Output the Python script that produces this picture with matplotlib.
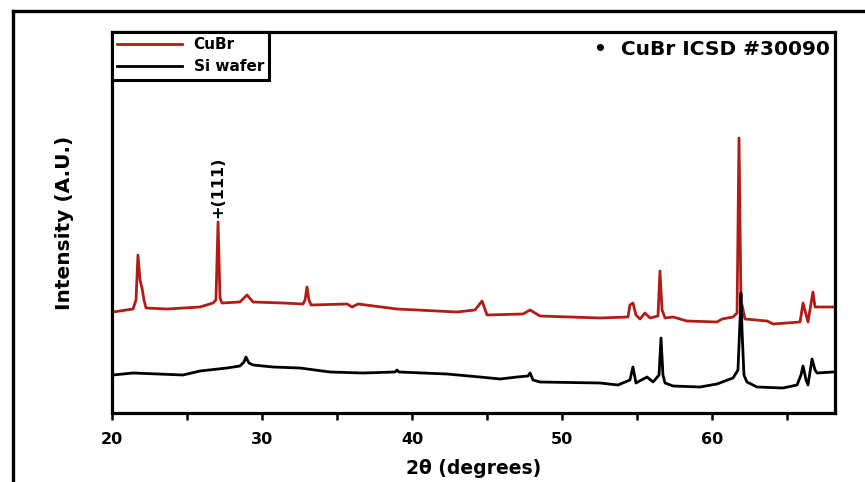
import matplotlib
matplotlib.use("Agg")
import matplotlib.pyplot as plt
from matplotlib.lines import Line2D
from matplotlib.ticker import MultipleLocator
import numpy as np

# CuBr film pattern (2theta in degrees, intensity in a.u.)
cubr_2theta = [20.07, 21.4, 21.6, 21.73, 21.87, 22.0, 22.13, 22.27, 23.67, 25.87,
               26.73, 26.93, 27.07, 27.2, 27.33, 28.53, 29.0, 29.4, 31.4, 32.73,
               32.87, 33.0, 33.13, 33.27, 35.67, 36.0, 36.4, 39.0, 43.0, 44.2,
               44.67, 45.0, 47.4, 47.87, 48.53, 52.53, 54.4, 54.53, 54.73, 54.93,
               55.2, 55.53, 55.87, 56.4, 56.53, 56.67, 56.87, 57.4, 58.33, 60.33,
               60.67, 61.4, 61.67, 61.8, 61.93, 62.2, 63.67, 64.07, 65.87, 66.07,
               66.4, 66.53, 66.73, 66.87, 68.07]
cubr_int = [101, 104, 113, 158, 133, 125, 113, 105, 104, 106,
            110, 113, 191, 115, 110, 111, 118, 111, 110, 109,
            113, 126, 113, 108, 109, 106, 109, 104, 101, 103,
            112, 98, 99, 103, 97, 95, 96, 108, 110, 98,
            94, 100, 95, 97, 142, 103, 95, 96, 92, 91,
            94, 96, 100, 275, 113, 94, 92, 89, 91, 110,
            91, 103, 121, 106, 106]

# bare Si wafer
si_2theta = [20.07, 21.4, 24.73, 25.87, 27.67, 28.53, 28.8, 28.93, 29.13, 29.4,
             30.73, 32.53, 34.53, 36.73, 38.87, 39.0, 39.13, 42.33, 44.53, 45.87,
             47.0, 47.73, 47.87, 48.07, 48.53, 52.53, 53.73, 54.53, 54.73, 54.93,
             55.67, 56.07, 56.47, 56.6, 56.73, 56.87, 57.4, 59.2, 60.33, 61.4,
             61.73, 61.87, 61.93, 62.0, 62.13, 62.33, 63.0, 64.73, 65.67, 65.93,
             66.07, 66.27, 66.4, 66.67, 66.87, 67.0, 68.07]
si_int = [38, 40, 38, 42, 45, 47, 51, 56, 50, 48,
          46, 45, 41, 40, 41, 43, 41, 39, 36, 34,
          36, 37, 40, 33, 31, 30, 28, 33, 46, 30,
          36, 31, 38, 75, 38, 30, 27, 26, 29, 35,
          43, 93, 120, 83, 38, 31, 26, 25, 28, 38,
          47, 33, 28, 54, 43, 40, 41]

red = "#b31b17"

fig = plt.figure(figsize=(8.65, 4.82), dpi=100)

# outer frame around the panel (right and bottom run off the page)
fig.add_artist(Line2D([13 / 865, 13 / 865], [1 - 11 / 482, 0], color="black",
                      lw=2.4, transform=fig.transFigure))
fig.add_artist(Line2D([13 / 865, 1.0], [1 - 11 / 482, 1 - 11 / 482], color="black",
                      lw=2.4, transform=fig.transFigure))

ax = fig.add_axes([112 / 865, 69 / 482, 723 / 865, 381 / 482])
ax.plot(cubr_2theta, cubr_int, color=red, lw=2.0, label="CuBr", solid_joinstyle="round")
ax.plot(si_2theta, si_int, color="black", lw=2.0, label="Si wafer", solid_joinstyle="round")

ax.set_xlim(20, 68.2)
ax.set_ylim(0, 381)
ax.set_yticks([])
ax.xaxis.set_major_locator(MultipleLocator(10))
ax.xaxis.set_minor_locator(MultipleLocator(5))
ax.tick_params(axis="x", which="both", direction="out", length=5, width=1.8,
               labelsize=11.5, pad=9)
for lab in ax.get_xticklabels():
    lab.set_fontweight("bold")
for sp in ax.spines.values():
    sp.set_linewidth(2.3)

ax.set_xlabel("2θ (degrees)", fontsize=13.5, fontweight="bold", labelpad=8)
ax.set_ylabel("Intensity (A.U.)", fontsize=14.5, fontweight="bold",
              family=["DejaVu Sans Condensed", "Liberation Sans Narrow", "DejaVu Sans"],
              labelpad=27)

leg = ax.legend(loc="upper left", borderaxespad=0, fancybox=False,
                edgecolor="black", framealpha=1, handlelength=4.2,
                prop={"weight": "bold", "size": 11}, borderpad=0.35,
                labelspacing=0.45, handletextpad=0.8)
leg.get_frame().set_linewidth(2.2)

ax.text(0.993, 0.955, "•  CuBr ICSD #30090", transform=ax.transAxes,
        ha="right", va="center", fontsize=14.5, fontweight="bold")

# (111) reflection label above the 27 deg peak
peak = int(np.argmax(np.array(cubr_int[:20])))
ax.annotate("+(111)", xy=(cubr_2theta[peak], cubr_int[peak]), xytext=(0, 3),
            textcoords="offset points", rotation=90, ha="center", va="bottom",
            fontsize=11.5, fontweight="bold")

fig.savefig("out.png", dpi=100)
